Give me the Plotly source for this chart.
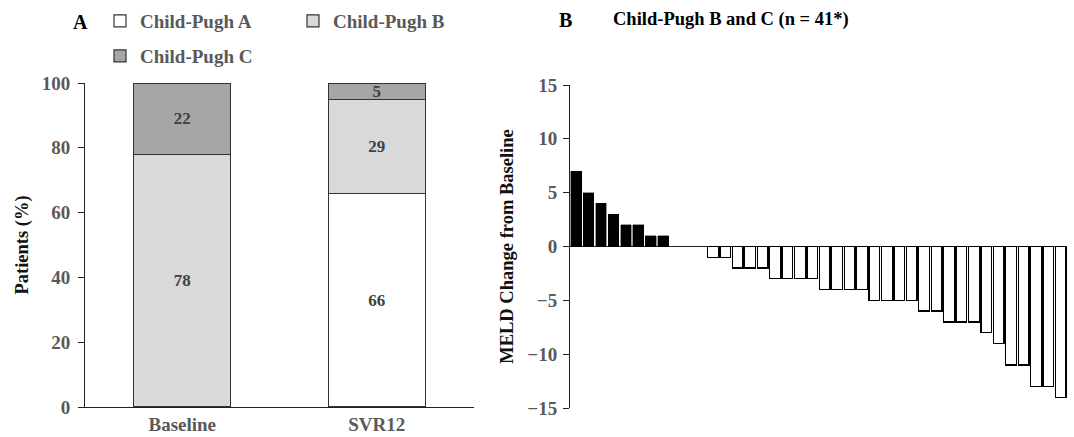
import plotly.graph_objects as go

# Panel A data
timepoints = ["Baseline", "SVR12"]
cp_a = [0, 66]
cp_b = [78, 29]
cp_c = [22, 5]

# Panel B data (MELD change per patient, sorted)
patients = list(range(1, 41))
meld_change = [7, 5, 4, 3, 2, 2, 1, 1, 0, 0, 0,
               -1, -1, -2, -2, -2, -3, -3, -3, -3,
               -4, -4, -4, -4, -5, -5, -5, -5, -6, -6,
               -7, -7, -7, -8, -9, -11, -11, -13, -13, -14]

FONT = "Liberation Serif"
GRAY = "#595959"
LABEL = "#404040"
W, H = 1074, 437

fig = go.Figure()

def lab(vals):
    return [str(v) if v else "" for v in vals]

series = [("Child-Pugh A", cp_a, "#ffffff", "legend"),
          ("Child-Pugh B", cp_b, "#d9d9d9", "legend"),
          ("Child-Pugh C", cp_c, "#a6a6a6", "legend2")]
for name, vals, col, lg in series:
    fig.add_trace(go.Bar(
        x=timepoints, y=vals, name=name, legend=lg,
        marker=dict(color=col, line=dict(color="#333333", width=1.2)),
        text=lab(vals), textposition="inside", insidetextanchor="middle",
        textangle=0, constraintext="none",
        textfont=dict(family=FONT, size=17, color=LABEL, weight="bold"),
        xaxis="x", yaxis="y", width=0.5,
    ))

def outline(v):
    if v > 0:
        return 0.4
    if v < 0:
        return 1.3
    return 0

fig.add_trace(go.Bar(
    x=patients, y=meld_change, showlegend=False,
    marker=dict(color=["#000000" if v > 0 else "#ffffff" for v in meld_change],
                line=dict(color="#000000", width=[outline(v) for v in meld_change])),
    xaxis="x2", yaxis="y2", width=0.86,
))

axfont = dict(family=FONT, size=19, color=GRAY, weight="bold")
titlefont = dict(family=FONT, size=18.5, color="#111111", weight="bold")

fig.update_layout(
    width=W, height=H, autosize=False,
    margin=dict(l=0, r=0, t=0, b=0),
    paper_bgcolor="white", plot_bgcolor="white",
    barmode="stack",
    font=dict(family=FONT),
    xaxis=dict(domain=[85 / W, 474 / W], range=[-0.5, 1.5], showline=True,
               linecolor="#222222", linewidth=1, ticks="", showgrid=False,
               tickfont=axfont, anchor="y", automargin=False),
    yaxis=dict(domain=[1 - 407 / H, 1 - 83 / H], range=[0, 100], dtick=20,
               showline=True, linecolor="#222222", linewidth=1, ticks="outside",
               ticklen=6, tickcolor="#222222", showgrid=False, zeroline=False,
               tickfont=axfont, anchor="x", automargin=False,
               ticklabelstandoff=4,
               title=dict(text="Patients (%)", font=titlefont, standoff=8)),
    xaxis2=dict(domain=[570 / W, 1067 / W], range=[0.5, 40.5], showline=False,
                ticks="", showticklabels=False, showgrid=False, zeroline=False,
                anchor="y2", automargin=False),
    yaxis2=dict(domain=[1 - 408 / H, 1 - 85 / H], range=[-15, 15], dtick=5,
                showline=True, linecolor="#222222", linewidth=1, ticks="outside",
                ticklen=6, tickcolor="#222222", showgrid=False, zeroline=True,
                zerolinecolor="#222222", zerolinewidth=1,
                tickfont=axfont, anchor="x2", automargin=False,
                ticklabelstandoff=2,
                title=dict(text="MELD Change from Baseline", font=titlefont, standoff=8)),
    legend=dict(orientation="h", x=100 / W, y=1 - 2 / H, xanchor="left", yanchor="top",
                entrywidth=148, entrywidthmode="pixels", bgcolor="rgba(0,0,0,0)",
                traceorder="normal",
                font=dict(family=FONT, size=19, color=GRAY, weight="bold"),
                itemclick=False),
    legend2=dict(orientation="h", x=100 / W, y=1 - 37 / H, xanchor="left", yanchor="top",
                 bgcolor="rgba(0,0,0,0)", traceorder="normal",
                 font=dict(family=FONT, size=19, color=GRAY, weight="bold"),
                 itemclick=False),
    annotations=[
        dict(text="A", x=80 / W, y=1 - 22 / H, xref="paper", yref="paper",
             xanchor="center", yanchor="middle", showarrow=False,
             font=dict(family=FONT, size=20, color="#000000", weight="bold")),
        dict(text="B", x=565 / W, y=1 - 20 / H, xref="paper", yref="paper",
             xanchor="center", yanchor="middle", showarrow=False,
             font=dict(family=FONT, size=20, color="#000000", weight="bold")),
        dict(text="Child-Pugh B and C (n = 41*)", x=731 / W, y=1 - 20 / H,
             xref="paper", yref="paper", xanchor="center", yanchor="middle",
             showarrow=False,
             font=dict(family=FONT, size=18.5, color="#000000", weight="bold")),
    ],
)

fig.write_html("out.html", config={"displayModeBar": False},
               post_script="document.body.style.margin='0';document.body.style.overflow='hidden';")
